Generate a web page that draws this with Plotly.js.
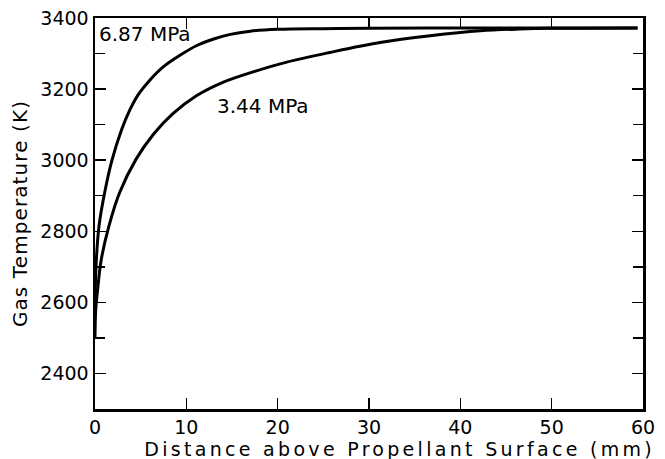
<!DOCTYPE html>
<html>
<head>
<meta charset="utf-8">
<script src="https://cdn.plot.ly/plotly-3.0.1.min.js"></script>
<style>
html,body{margin:0;padding:0;background:#fff;}
#chart{width:665px;height:459px;}
g.annotation[data-index="2"] text{letter-spacing:3.3px;}
.ytitle{letter-spacing:1.1px;}
</style>
</head>
<body>
<div id="chart"></div>
<script>
// 6.87 MPa curve
const x687 = [0, 0.05, 0.15, 0.44, 1.06, 1.86, 2.9, 3.83, 4.7, 6.0, 7.5, 9.3, 11.1, 13.0, 14.8, 17, 20, 25, 30, 40, 50, 59.4];
const y687 = [2580, 2660, 2721, 2815, 2909, 3000, 3085, 3142, 3183, 3225, 3263, 3295, 3322, 3341, 3354, 3363, 3368, 3370, 3371, 3372, 3372, 3372];
// 3.44 MPa curve
const x344 = [0, 0.08, 0.25, 0.69, 1.53, 2.7, 4.5, 6.4, 8.5, 11.1, 14, 17.5, 21, 25.7, 31.2, 36.7, 42.2, 46.5, 50, 59.4];
const y344 = [2500, 2580, 2627, 2721, 2815, 2909, 3003, 3073, 3130, 3181, 3219, 3250, 3276, 3303, 3331, 3350, 3364, 3369, 3371, 3372];
const curveLabels = ["6.87 MPa", "3.44 MPa"];
const xTicks = [0, 10, 20, 30, 40, 50, 60];
const yTicks = [2400, 2600, 2800, 3000, 3200, 3400];
const xTitle = "Distance above Propellant Surface (mm)";
const yTitle = "Gas Temperature (K)";

const FONT = "DejaVu Sans";
const lineStyle = {color: "#000", width: 3, shape: "spline", smoothing: 1};

const traces = [
  {x: x687, y: y687, mode: "lines", line: lineStyle, name: curveLabels[0], hoverinfo: "skip"},
  {x: x344, y: y344, mode: "lines", line: lineStyle, name: curveLabels[1], hoverinfo: "skip"}
];

const axisCommon = {
  showgrid: false, zeroline: false,
  showline: true, linecolor: "#000", linewidth: 2.5, mirror: "ticks",
  ticks: "inside", ticklen: 11, tickwidth: 1.5, tickcolor: "#000",
  tickfont: {family: FONT, size: 19, color: "#000"}
};

const M = {l: 95, r: 22, t: 18, b: 50};
const plotW = 665 - M.l - M.r, plotH = 459 - M.t - M.b;

const layout = {
  width: 665, height: 459,
  margin: M,
  paper_bgcolor: "#fff", plot_bgcolor: "#fff",
  showlegend: false,
  font: {family: FONT, color: "#000"},
  xaxis: Object.assign({}, axisCommon, {
    range: [0, 60], tickvals: xTicks, ticktext: xTicks.map(String),
    title: {text: ""}
  }),
  yaxis: Object.assign({}, axisCommon, {
    range: [2300, 3400], tickvals: yTicks, ticktext: yTicks.map(String),
    minor: {dtick: 100, tick0: 2300, ticks: "inside", ticklen: 10, tickwidth: 1.5, tickcolor: "#000"},
    title: {text: yTitle, font: {family: FONT, size: 20, color: "#000"}, standoff: 8}
  }),
  annotations: [
    {x: 0.2, y: 3354, xref: "x", yref: "y", text: curveLabels[0], showarrow: false,
     xanchor: "left", yanchor: "middle", font: {family: FONT, size: 20, color: "#000"}},
    {x: 13.1, y: 3152, xref: "x", yref: "y", text: curveLabels[1], showarrow: false,
     xanchor: "left", yanchor: "middle", font: {family: FONT, size: 20, color: "#000"}},
    {x: (399 - M.l) / plotW, y: (459 - M.b - 461.5) / plotH, xref: "paper", yref: "paper",
     text: xTitle, showarrow: false,
     xanchor: "center", yanchor: "bottom", font: {family: FONT, size: 19, color: "#000"}}
  ]
};

Plotly.newPlot("chart", traces, layout, {displayModeBar: false, staticPlot: true});
</script>
</body>
</html>
